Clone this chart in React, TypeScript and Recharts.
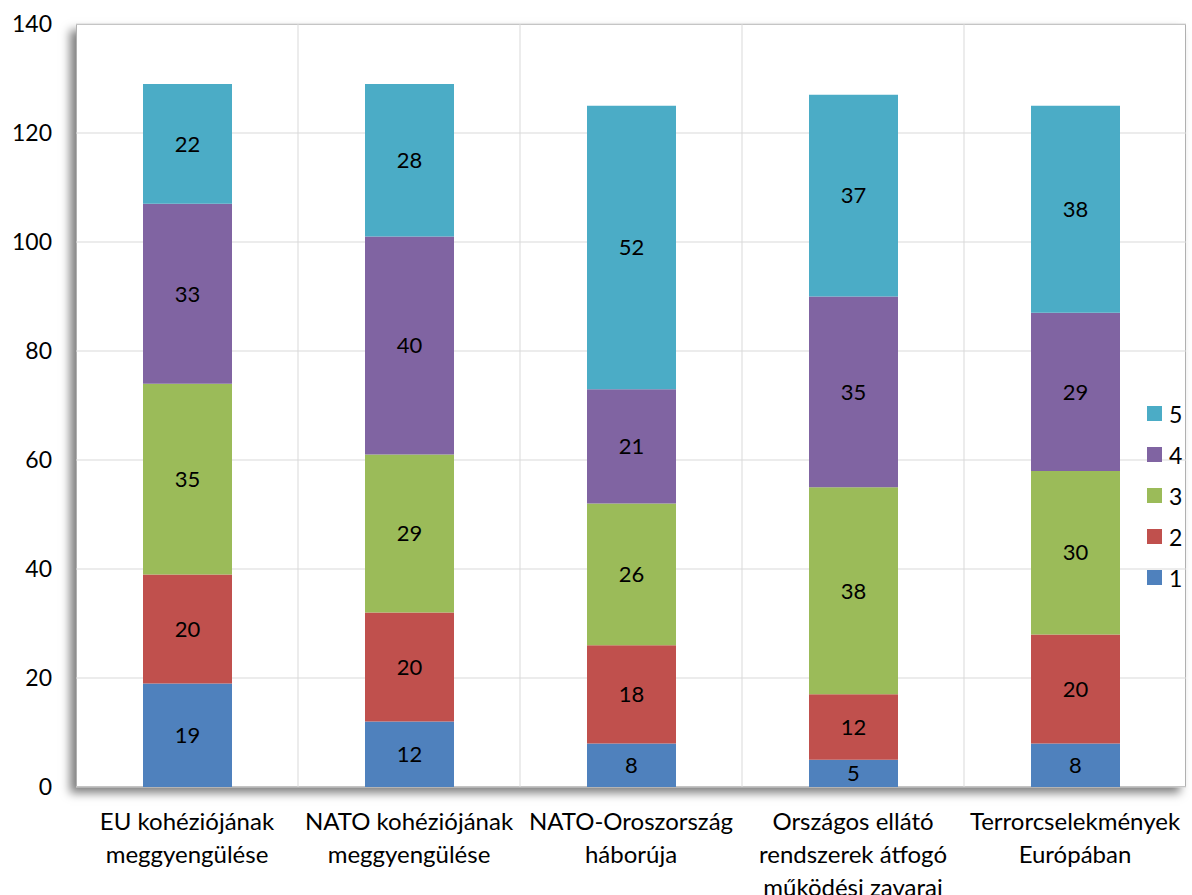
import React from "react"
import { BarChart, Bar, XAxis, YAxis, CartesianGrid, Legend, LabelList } from "recharts"

const categories = [
  "EU kohéziójának\nmeggyengülése",
  "NATO kohéziójának\nmeggyengülése",
  "NATO-Oroszország\nháborúja",
  "Országos ellátó\nrendszerek átfogó\nműködési zavarai",
  "Terrorcselekmények\nEurópában",
]
const s1 = [19, 12, 8, 5, 8]
const s2 = [20, 20, 18, 12, 20]
const s3 = [35, 29, 26, 38, 30]
const s4 = [33, 40, 21, 35, 29]
const s5 = [22, 28, 52, 37, 38]
const yTicks = [0, 20, 40, 60, 80, 100, 120, 140]

const series = [
  { key: "1", values: s1, color: "#4F81BD" },
  { key: "2", values: s2, color: "#C0504D" },
  { key: "3", values: s3, color: "#9BBB59" },
  { key: "4", values: s4, color: "#8064A2" },
  { key: "5", values: s5, color: "#4BACC6" },
]

const data = categories.map((name, i) => {
  const row: Record<string, string | number> = { name }
  series.forEach((s) => (row[s.key] = s.values[i]))
  return row
})

const FONT = "Lato, 'Noto Sans', sans-serif"
const W = 1192
const H = 895
const M = { top: 24, right: 6, left: 0, bottom: 0 }
const Y_W = 76
const X_H = 108

function CatTick(props: any) {
  const { x, y, payload } = props
  const lines = String(payload.value).split("\n")
  return (
    <text x={x} y={y} textAnchor="middle" fontFamily={FONT} fontSize={24} fill="#000">
      {lines.map((l, i) => (
        <tspan key={i} x={x} dy={i === 0 ? 35 : 33}>
          {l}
        </tspan>
      ))}
    </text>
  )
}

function LegendBox() {
  const items = [...series].reverse()
  return (
    <div style={{ fontFamily: FONT, fontSize: 23, color: "#000" }}>
      {items.map((s) => (
        <div key={s.key} style={{ display: "flex", alignItems: "center", height: 41 }}>
          <span style={{ width: 15, height: 15, background: s.color, display: "inline-block", marginRight: 7 }} />
          <span>{s.key}</span>
        </div>
      ))}
    </div>
  )
}

export default function App() {
  const plotW = W - M.left - M.right - Y_W
  const plotH = H - M.top - M.bottom - X_H
  return (
    <div style={{ position: "absolute", left: 0, top: 0, width: W, height: H, background: "#fff" }}>
      <div
        style={{
          position: "absolute",
          left: M.left + Y_W,
          top: M.top,
          width: plotW,
          height: plotH,
          background: "#fff",
          border: "1px solid #b0b0b0",
          boxSizing: "border-box",
          boxShadow: "-6px 6px 9px rgba(0,0,0,0.5)",
        }}
      />
      <div style={{ position: "relative", zIndex: 1 }}>
        <BarChart width={W} height={H} data={data} margin={M} barSize={89}>
          <CartesianGrid
            stroke="#d9d9d9"
            verticalCoordinatesGenerator={({ offset }: any) =>
              categories.map((_, i) => offset.left + (i * offset.width) / categories.length).slice(1)
            }
          />
          <XAxis
            dataKey="name"
            axisLine={false}
            tickLine={false}
            height={X_H}
            interval={0}
            tick={<CatTick />}
          />
          <YAxis
            width={Y_W}
            domain={[0, 140]}
            ticks={yTicks}
            axisLine={false}
            tickLine={false}
            tickMargin={18}
            tick={{ fontSize: 23, fill: "#000", fontFamily: FONT }}
          />
          <Legend
            layout="horizontal"
            align="center"
            verticalAlign="middle"
            content={<LegendBox />}
            wrapperStyle={{ position: "absolute", left: 1147, top: 393, width: 45 }}
          />
          {series.map((s) => (
            <Bar key={s.key} dataKey={s.key} stackId="a" fill={s.color} isAnimationActive={false}>
              <LabelList dataKey={s.key} position="center" fill="#000" fontSize={22} fontFamily={FONT} />
            </Bar>
          ))}
        </BarChart>
      </div>
    </div>
  )
}
